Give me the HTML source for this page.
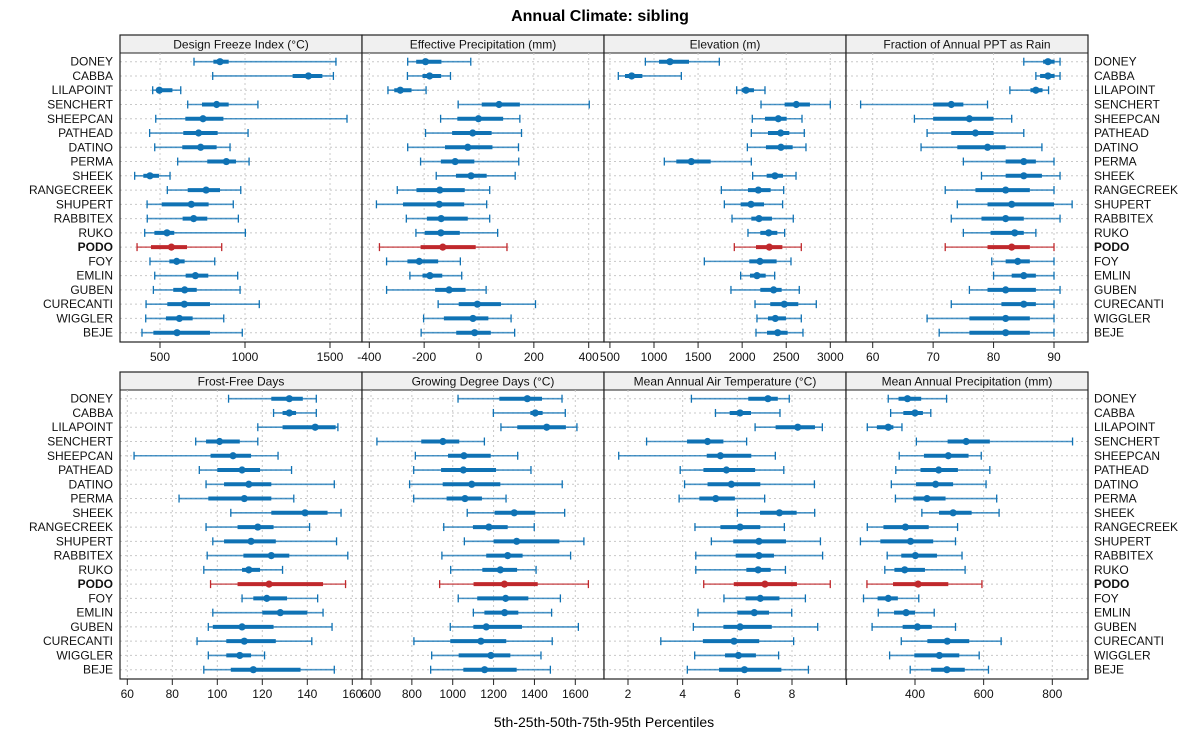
<!DOCTYPE html>
<html><head><meta charset="utf-8"><style>
body{margin:0;background:#fff;}
svg{display:block;font-family:"Liberation Sans",sans-serif;}
</style></head><body>
<svg id="chart" width="1200" height="750" viewBox="0 0 1200 750" xmlns="http://www.w3.org/2000/svg">
<text x="600" y="21" text-anchor="middle" font-size="16" font-weight="bold">Annual Climate: sibling</text>
<text x="604" y="727" text-anchor="middle" font-size="14">5th-25th-50th-75th-95th Percentiles</text>
<g id="plots"></g>
</svg>
<script>
const sites = ["DONEY","CABBA","LILAPOINT","SENCHERT","SHEEPCAN","PATHEAD","DATINO","PERMA","SHEEK","RANGECREEK","SHUPERT","RABBITEX","RUKO","PODO","FOY","EMLIN","GUBEN","CURECANTI","WIGGLER","BEJE"];
const highlightSite = "PODO";
const designFreeze = [[700,814,853,904,1535],[810,1280,1373,1455,1520],[457,480,496,573,622],[663,747,833,904,1076],[475,649,753,873,1600],[439,637,727,839,1018],[469,631,739,833,912],[604,778,890,947,1024],[351,402,441,494,559],[543,663,771,853,975],[424,510,684,786,931],[425,633,698,778,961],[410,467,541,584,1002],[365,447,567,659,863],[441,555,598,645,822],[469,651,708,784,957],[461,578,645,716,971],[418,543,643,794,1084],[416,535,614,692,875],[394,461,600,794,984]];
const effPrecip = [[-260,-229,-195,-137,-30],[-261,-206,-180,-138,-104],[-332,-309,-287,-246,-193],[-76,10,73,149,402],[-140,-79,-2,88,149],[-195,-98,-23,46,155],[-260,-124,-41,49,144],[-213,-139,-87,-17,145],[-156,-84,-29,28,132],[-298,-228,-143,-52,39],[-374,-277,-145,-54,28],[-265,-190,-138,-41,39],[-230,-198,-139,-70,68],[-363,-213,-132,-12,102],[-337,-261,-218,-149,-68],[-252,-206,-179,-134,-63],[-337,-160,-109,-49,26],[-149,-74,-6,80,206],[-202,-128,-22,34,117],[-211,-83,-16,43,130]];
const elevation = [[902,1057,1181,1397,1741],[595,671,747,868,1310],[1938,1994,2043,2134,2259],[2214,2482,2614,2769,3000],[2115,2259,2410,2505,2679],[2104,2293,2437,2535,2705],[2059,2270,2440,2573,2724],[1117,1253,1423,1643,2104],[2119,2278,2372,2463,2611],[1764,2066,2183,2323,2471],[1798,1983,2100,2248,2459],[1885,2104,2191,2338,2580],[2066,2206,2301,2399,2482],[1911,2157,2308,2456,2671],[1571,2081,2202,2391,2554],[1983,2089,2168,2267,2369],[1873,2206,2357,2448,2648],[2146,2319,2478,2637,2841],[2168,2293,2376,2497,2671],[2157,2282,2403,2516,2690]];
const rainFraction = [[85,88.2,89,90.1,91],[87,87.7,89,90.1,91],[82.7,86.1,87,88.1,89.1],[58,70,73,75,79],[66.9,70,76,80,83],[69,73,77,80,85],[68,74,79,82,88],[75,82,85,87,90],[78,82,85,88,91],[72,77,82,86,90],[74,79,83,90,93],[73,78,82,85,91],[75,79.5,83.5,85,87],[72,79,83,86,90],[79.7,82,84,86,90],[80,83,85,87,90],[76,79,82,87,91],[73,81.3,85,87,90],[69,76,82,86,90],[71,76,82,86,90]];
const frostFree = [[105,124,132,138,144],[125,129,132,135,144],[118,129,143.5,152.6,153.6],[90.4,95,101,110,118],[63,97,107,115,127],[92,100,111,119,133],[95,103,114,124,152],[83,96,112,124,134],[106,124,139,149,155],[95,109,118,125,141],[98,103,115,126,153],[95.5,111.6,124,132,158],[94,111,114,119,129],[97,109,123,147,157],[111,116,122,131,144.6],[98,120,128,140,147],[96,98,111,125,151],[91,104,112,126,142],[96,104,110,115,121],[94,106,116,137,152]];
const growingDD = [[1026,1228,1365,1437,1535],[1199,1380,1404,1440,1551],[1236,1316,1460,1554,1608],[629,846,952,1032,1155],[817,977,1055,1186,1318],[809,943,1052,1212,1383],[789,951,1093,1233,1536],[809,970,1060,1143,1261],[1071,1205,1301,1404,1548],[956,1099,1177,1269,1399],[1057,1200,1313,1522,1642],[947,1164,1269,1342,1577],[990,1145,1233,1315,1408],[936,1102,1253,1416,1664],[1027,1120,1259,1370,1527],[1101,1155,1254,1321,1484],[988,1101,1164,1339,1615],[810,988,1138,1262,1487],[897,1029,1187,1282,1432],[892,1052,1156,1313,1478]];
const airTemp = [[4.32,6.40,7.12,7.48,7.90],[5.20,5.72,6.10,6.50,7.56],[6.65,7.40,8.21,8.84,9.11],[2.68,4.16,4.91,5.49,6.34],[1.66,4.88,5.38,6.51,7.39],[3.91,4.76,5.60,6.65,7.70],[4.07,4.91,5.78,6.84,8.82],[3.87,4.61,5.21,5.91,7.0],[6.0,6.83,7.54,8.17,8.83],[4.45,5.38,6.10,6.84,7.72],[5.05,5.85,6.79,7.78,9.04],[4.48,5.94,6.79,7.34,9.12],[4.48,6.33,6.76,7.22,7.76],[4.77,5.87,7.01,8.18,9.40],[5.51,6.30,6.84,7.54,8.49],[4.56,6.0,6.62,7.16,7.99],[4.39,5.49,6.10,7.26,8.94],[3.20,4.74,5.88,6.80,8.06],[4.44,5.55,6.04,6.68,7.51],[4.17,5.33,6.26,7.61,8.60]];
const annualPrecip = [[322,352,378,418,492],[329,366,400,423,446],[261,289,322,337,362],[404,495,549,618,859],[354,426,497,556,593],[344,416,469,525,618],[331,403,460,511,607],[343,395,435,489,638],[420,470,511,565,645],[261,308,372,440,524],[241,299,387,453,518],[319,360,401,464,537],[312,340,370,429,546],[260,336,409,497,595],[250,291,322,350,411],[293,339,374,400,456],[275,364,407,449,518],[360,436,494,558,651],[326,398,471,529,587],[386,447,493,545,614]];
const panelTitles = ["Design Freeze Index (°C)","Effective Precipitation (mm)","Elevation (m)","Fraction of Annual PPT as Rain","Frost-Free Days","Growing Degree Days (°C)","Mean Annual Air Temperature (°C)","Mean Annual Precipitation (mm)"];
const tickValues = [[500,1000,1500],[-400,-200,0,200,400],[500,1000,1500,2000,2500,3000],[60,70,80,90],[60,80,100,120,140,160],[600,800,1000,1200,1400,1600],[2,4,6,8,10],[200,400,600,800]];
const tickLabels = [["500","1000","1500"],["-400","-200","0","200","400"],["500","1000","1500","2000","2500","3000"],["60","70","80","90"],["60","80","100","120","140","160"],["600","800","1000","1200","1400","1600"],["2","4","6","8",""],["","400","600","800"]];
const panelData = [designFreeze,effPrecip,elevation,rainFraction,frostFree,growingDD,airTemp,annualPrecip];
// axis calibration: value a -> pixel pa, value b -> pixel pb
const axisCal = [[500,160,1500,330],[-400,369.3,400,588.7],[1000,654,3000,830.3],[60,872.7,90,1054],[60,127.3,160,352.3],[600,371,1600,575.3],[2,628,8,792],[400,915,800,1052.3]];

const NS="http://www.w3.org/2000/svg";
const root=document.getElementById('plots');
function mk(tag,attrs,parent){const e=document.createElementNS(NS,tag);for(const k in attrs)e.setAttribute(k,attrs[k]);(parent||root).appendChild(e);return e;}
const colL=[120,362,604,846], colW=242;
const rows=[{top:35,bottom:342,y0:61.7,y1:332.7},{top:372,bottom:679,y0:398.7,y1:669.7}];
function slug(s){return s.toLowerCase().replace(/[^a-z0-9]+/g,'-').replace(/^-|-$/g,'');}

for(let p=0;p<8;p++){
  const r=rows[Math.floor(p/4)], x0=colL[p%4], x1=x0+colW;
  const cal=axisCal[p];
  const sx=v=>cal[1]+(v-cal[0])*(cal[3]-cal[1])/(cal[2]-cal[0]);
  const sy=i=>r.y0+i*(r.y1-r.y0)/(sites.length-1);
  const g=mk('g',{});
  
  
  const bg=mk('rect',{x:x0,y:r.top,width:colW,height:r.bottom-r.top,fill:'#fff'},g);
  // strip
  const strip=mk('rect',{x:x0,y:r.top,width:colW,height:18,fill:'#f0f0f0',stroke:'#222','stroke-width':1},g);
  
  
  const st=mk('text',{x:x0+colW/2,y:r.top+13.5,'text-anchor':'middle','font-size':12,fill:'#111'},g);
  st.textContent=panelTitles[p];
  
  
  // grid
  tickValues[p].forEach((t,k)=>{
    const x=sx(t);
    if(x>x0+1&&x<x1-1){const gl=mk('line',{x1:x,x2:x,y1:r.top+18,y2:r.bottom,stroke:'#c8c8c8','stroke-dasharray':'2,3','stroke-width':1},g);
      
      }
    const tm=mk('line',{x1:x,x2:x,y1:r.bottom,y2:r.bottom+6,stroke:'#222'},g);
    
    
    const tl=mk('text',{x:x,y:r.bottom+19,'text-anchor':'middle','font-size':12,fill:'#111'},g);
    tl.textContent=tickLabels[p][k];
    
    
  });
  sites.forEach((s,i)=>{
    const y=sy(i);
    const hl=mk('line',{x1:x0,x2:x1,y1:y,y2:y,stroke:'#c8c8c8','stroke-dasharray':'2,3'},g);
    
    
  });
  sites.forEach((s,i)=>{
    const d=panelData[p][i], y=sy(i);
    const c=s===highlightSite?'#c0282c':'#0f72b4';
    const eg=mk('g',{},g);
    
    
    mk('line',{x1:sx(d[0]),x2:sx(d[4]),y1:y,y2:y,stroke:c,'stroke-width':1.6,'stroke-opacity':0.75},eg);
    mk('line',{x1:sx(d[0]),x2:sx(d[0]),y1:y-4,y2:y+4,stroke:c,'stroke-width':1.3},eg);
    mk('line',{x1:sx(d[4]),x2:sx(d[4]),y1:y-4,y2:y+4,stroke:c,'stroke-width':1.3},eg);
    mk('line',{x1:sx(d[1]),x2:sx(d[3]),y1:y,y2:y,stroke:c,'stroke-width':4},eg);
    mk('circle',{cx:sx(d[2]),cy:y,r:3.6,fill:c},eg);
  });
  const fr=mk('rect',{x:x0,y:r.top,width:colW,height:r.bottom-r.top,fill:'none',stroke:'#222','stroke-width':1.2},g);
  
  
}
// site labels
rows.forEach((r,ri)=>{
  sites.forEach((s,i)=>{
    const y=r.y0+i*(r.y1-r.y0)/(sites.length-1)+4;
    const bold=s===highlightSite?'bold':'normal';
    const a=mk('text',{x:113,y:y,'text-anchor':'end','font-size':12,'font-weight':bold,fill:'#111'});
    a.textContent=s;
    
    
    const b=mk('text',{x:1094,y:y,'text-anchor':'start','font-size':12,'font-weight':bold,fill:'#111'});
    b.textContent=s;
    
    
  });
});
</script>
</body></html>
